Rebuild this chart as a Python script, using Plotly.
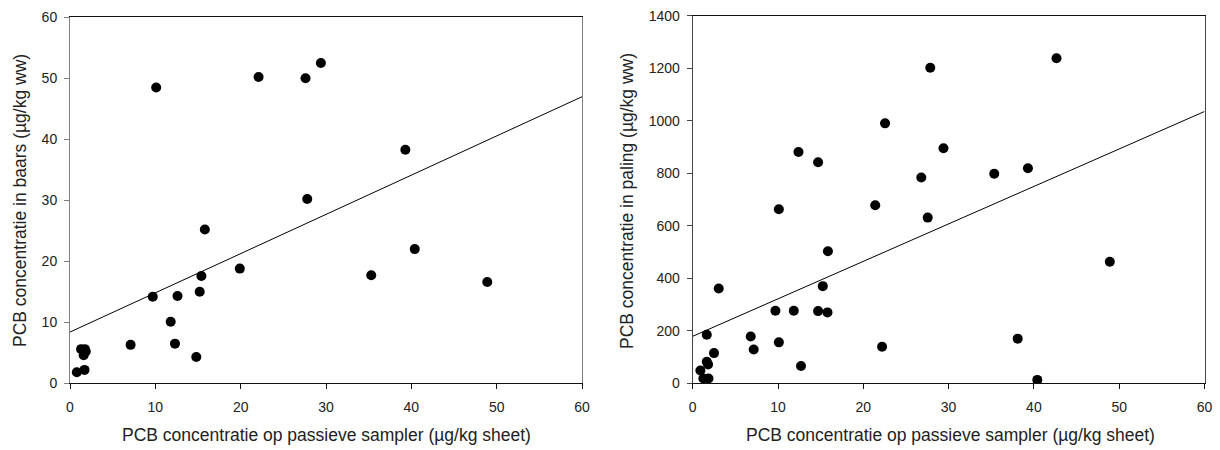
import plotly.graph_objects as go

# Passive sampler PCB concentration (µg/kg sheet) vs. PCB in perch (baars)
baars_sampler = [0.8, 1.7, 1.3, 1.75, 1.85, 1.6, 7.1, 9.7, 10.1, 11.8, 12.3, 12.6,
                 14.8, 15.2, 15.4, 15.8, 19.9, 22.1, 27.6, 27.8, 29.4, 35.3, 39.3,
                 40.4, 48.9]
baars_conc = [1.8, 2.2, 5.6, 5.6, 5.2, 4.6, 6.3, 14.2, 48.5, 10.1, 6.5, 14.3,
              4.3, 15.0, 17.6, 25.2, 18.8, 50.2, 50.0, 30.2, 52.5, 17.7, 38.3,
              22.0, 16.6]

# Passive sampler PCB concentration vs. PCB in eel (paling)
paling_sampler = [0.9, 1.25, 1.85, 1.65, 1.65, 1.8, 2.5, 3.05, 6.8, 7.15, 9.7,
                  10.1, 10.1, 11.85, 12.4, 12.7, 14.7, 14.7, 15.25, 15.8, 15.85,
                  21.4, 22.2, 22.55, 26.8, 27.55, 27.85, 29.4, 35.35, 38.1, 39.3,
                  40.4, 42.65, 48.9]
paling_conc = [49, 18, 18, 185, 82, 72, 115, 361, 178, 129, 276, 663, 156, 276,
               881, 66, 842, 275, 370, 270, 503, 678, 139, 990, 784, 631, 1202,
               895, 798, 170, 819, 13, 1238, 463]

# Linear fit lines (intercept, slope)
baars_fit = (8.4, 0.643)
paling_fit = (179.0, 14.27)
fit_x = [0, 60]

x_title = "PCB concentratie op passieve sampler (µg/kg sheet)"
y_title_baars = "PCB concentratie in baars (µg/kg ww)"
y_title_paling = "PCB concentratie in paling (µg/kg ww)"

W, H = 1220, 450
FONT = "Arial, Liberation Sans, sans-serif"

fig = go.Figure()

marker = dict(color="black", size=10, line=dict(width=0))
fig.add_trace(go.Scatter(x=baars_sampler, y=baars_conc, mode="markers",
                         marker=marker, xaxis="x", yaxis="y", showlegend=False))
fig.add_trace(go.Scatter(x=fit_x, y=[baars_fit[0] + baars_fit[1] * v for v in fit_x],
                         mode="lines", line=dict(color="black", width=1),
                         xaxis="x", yaxis="y", showlegend=False))
fig.add_trace(go.Scatter(x=paling_sampler, y=paling_conc, mode="markers",
                         marker=marker, xaxis="x2", yaxis="y2", showlegend=False))
fig.add_trace(go.Scatter(x=fit_x, y=[paling_fit[0] + paling_fit[1] * v for v in fit_x],
                         mode="lines", line=dict(color="black", width=1),
                         xaxis="x2", yaxis="y2", showlegend=False))


def px_x(p):
    return p / W


def px_y(p):
    return 1 - p / H


tick_font = dict(family=FONT, size=14, color="#222")
common_x = dict(range=[0, 60], dtick=10, tick0=0, showgrid=False, zeroline=False,
                showline=True, linecolor="#111", linewidth=1, mirror=True,
                ticks="outside", ticklen=5, tickcolor="#111", tickfont=tick_font,
                fixedrange=True, automargin=False, ticklabelstandoff=6)
common_y = dict(showgrid=False, zeroline=False, showline=True, linewidth=1,
                mirror=True, ticks="outside", ticklen=5, tickfont=tick_font,
                fixedrange=True, automargin=False, ticklabelstandoff=4)

fig.update_layout(
    width=W, height=H,
    margin=dict(l=0, r=0, t=0, b=0, pad=0, autoexpand=False),
    paper_bgcolor="white", plot_bgcolor="white",
    font=dict(family=FONT, color="#222"),
    xaxis=dict(common_x, domain=[px_x(70), px_x(582)], anchor="y"),
    yaxis=dict(common_y, domain=[px_y(383.3), px_y(17.3)], anchor="x",
               range=[0, 60], dtick=10, linecolor="#808080", tickcolor="#808080"),
    xaxis2=dict(common_x, domain=[px_x(692.7), px_x(1204.5)], anchor="y2"),
    yaxis2=dict(common_y, domain=[px_y(383.3), px_y(15.7)], anchor="x2",
                range=[0, 1400], dtick=200, linecolor="#444", tickcolor="#444"),
)

title_font = dict(family=FONT, size=17.5, color="#222")
annotations = [
    dict(text=x_title, x=px_x(326), y=px_y(435)),
    dict(text=x_title, x=px_x(950), y=px_y(435)),
    dict(text=y_title_baars, x=px_x(20), y=px_y(201), textangle=-90),
    dict(text=y_title_paling, x=px_x(627), y=px_y(201), textangle=-90),
]
for a in annotations:
    fig.add_annotation(xref="paper", yref="paper", showarrow=False,
                       xanchor="center", yanchor="middle", font=title_font, **a)

fig.write_html("out.html")
